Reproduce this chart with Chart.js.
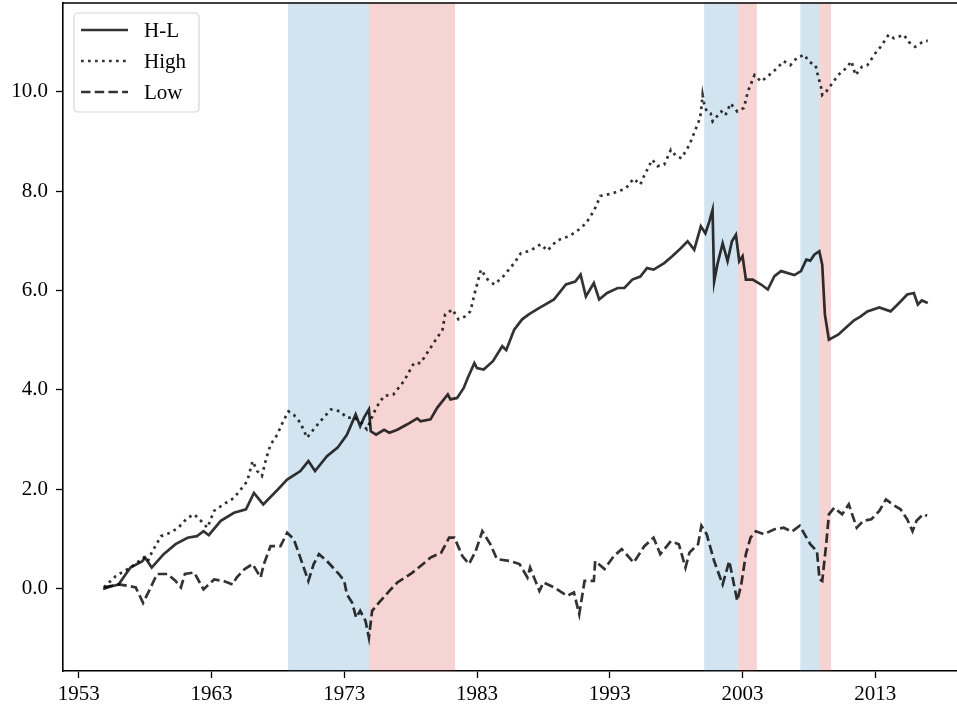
<!DOCTYPE html>
<html>
<head>
<meta charset="utf-8">
<script src="https://cdn.jsdelivr.net/npm/chart.js@4.4.1/dist/chart.umd.min.js"></script>
<style>
  html, body { margin: 0; padding: 0; background: #fff; overflow: hidden; }
  canvas { display: block; }
</style>
</head>
<body>
<canvas id="chart" width="957" height="708"></canvas>
<script>
// tick labels
const xTicks = [1953, 1963, 1973, 1983, 1993, 2003, 2013];
const yTicks = [0, 2, 4, 6, 8, 10];

// shaded periods (years)
const blueFrom = [1968.77, 2000.11, 2007.35];
const blueTo = [1974.86, 2002.63, 2008.78];
const redFrom = [1974.86, 2002.63, 2008.78];
const redTo = [1981.34, 2004.08, 2009.66];

// H-L (solid)
const hlX = [1954.84, 1955.4, 1956.0, 1956.9, 1957.8, 1958.0, 1958.5, 1959.4, 1960.3, 1961.2, 1961.9, 1962.4, 1962.8,
  1963.7, 1964.7, 1965.6, 1966.2, 1966.9, 1968.0, 1968.7, 1969.7, 1970.3, 1970.8, 1971.7, 1972.5, 1973.2, 1973.86,
  1974.2, 1974.5, 1974.86, 1975.0, 1975.4, 1976.0, 1976.4, 1977.0, 1977.75, 1978.5, 1978.75, 1979.5, 1980.0, 1980.8,
  1981.0, 1981.5, 1982.0, 1982.3, 1982.8, 1983.0, 1983.5, 1984.2, 1984.9, 1985.2, 1985.8, 1986.4, 1986.9, 1987.7,
  1988.8, 1989.7, 1990.4, 1990.8, 1991.2, 1991.8, 1992.2, 1992.8, 1993.6, 1994.1, 1994.7, 1995.3, 1995.8, 1996.3,
  1997.1, 1997.7, 1998.35, 1998.86, 1999.36, 1999.86, 2000.2, 2000.5, 2000.74, 2000.86, 2001.1, 2001.5, 2001.87,
  2002.2, 2002.5, 2002.75, 2003.0, 2003.25, 2003.76, 2004.4, 2004.9, 2005.4, 2005.9, 2006.9, 2007.4, 2007.8, 2008.1,
  2008.4, 2008.78, 2009.0, 2009.2, 2009.5, 2010.2, 2010.9, 2011.4, 2011.9, 2012.4, 2013.3, 2014.15, 2014.9, 2015.4,
  2015.9, 2016.2, 2016.5, 2016.95];
const hlY = [0.00, 0.05, 0.09, 0.43, 0.56, 0.63, 0.43, 0.70, 0.90, 1.03, 1.06, 1.16, 1.08,
  1.37, 1.53, 1.60, 1.93, 1.70, 2.00, 2.20, 2.37, 2.57, 2.37, 2.67, 2.84, 3.10, 3.51,
  3.27, 3.45, 3.61, 3.17, 3.10, 3.20, 3.14, 3.20, 3.31, 3.43, 3.37, 3.41, 3.64, 3.91,
  3.81, 3.84, 4.04, 4.24, 4.54, 4.44, 4.41, 4.58, 4.88, 4.80, 5.21, 5.42, 5.52, 5.65,
  5.82, 6.12, 6.18, 6.32, 5.88, 6.15, 5.82, 5.95, 6.05, 6.05, 6.22, 6.28, 6.45, 6.42,
  6.55, 6.69, 6.85, 6.99, 6.82, 7.29, 7.15, 7.39, 7.62, 6.18, 6.52, 6.95, 6.59,
  6.99, 7.12, 6.59, 6.69, 6.22, 6.22, 6.12, 6.02, 6.29, 6.39, 6.31, 6.39, 6.62, 6.60,
  6.72, 6.79, 6.52, 5.52, 5.01, 5.11, 5.28, 5.40, 5.48, 5.58, 5.66, 5.58, 5.78, 5.92,
  5.95, 5.72, 5.80, 5.75];

// High (dotted)
const highX = [1954.9, 1955.8, 1956.9, 1957.5, 1957.9, 1958.2, 1958.5, 1959.2, 1959.9, 1960.5, 1961.2, 1961.7, 1962.2,
  1962.7, 1963.2, 1963.9, 1964.7, 1965.3, 1965.7, 1966.1, 1966.45, 1966.8, 1967.1, 1967.45, 1967.95, 1968.4, 1968.8,
  1969.2, 1969.7, 1970.2, 1970.7, 1971.2, 1972.0, 1972.7, 1973.2, 1973.7, 1974.2, 1974.7, 1975.4, 1976.0, 1976.7,
  1977.5, 1978.25, 1978.75, 1979.4, 1980.0, 1980.4, 1980.6, 1981.15, 1981.6, 1982.1, 1982.5, 1982.8, 1983.3, 1983.8,
  1984.3, 1985.0, 1985.8, 1986.3, 1987.0, 1987.8, 1988.3, 1989.0, 1990.0, 1990.7, 1991.2, 1991.8, 1992.3, 1993.2,
  1994.2, 1994.8, 1995.3, 1995.5, 1996.2, 1996.6, 1997.1, 1997.6, 1998.0, 1998.4, 1999.0, 1999.7, 1999.86, 1999.99,
  2000.1, 2000.3, 2000.6, 2000.75, 2001.4, 2001.7, 2002.1, 2002.6, 2003.1, 2003.4, 2003.9, 2004.4, 2005.0, 2005.6,
  2006.1, 2006.6, 2007.1, 2007.65, 2008.0, 2008.5, 2008.6, 2008.9, 2009.0, 2009.3, 2009.66, 2010.2, 2010.8, 2011.2,
  2011.5, 2012.0, 2012.4, 2013.0, 2013.4, 2014.0, 2014.4, 2015.15, 2015.5, 2016.0, 2016.7, 2016.95];
const highY = [0.03, 0.26, 0.43, 0.55, 0.63, 0.55, 0.73, 1.06, 1.13, 1.23, 1.43, 1.50, 1.37,
  1.23, 1.57, 1.70, 1.83, 2.03, 2.17, 2.57, 2.37, 2.27, 2.60, 2.90, 3.10, 3.37, 3.57,
  3.50, 3.34, 3.04, 3.21, 3.37, 3.61, 3.57, 3.44, 3.45, 3.37, 3.21, 3.64, 3.88, 3.91,
  4.18, 4.54, 4.54, 4.81, 5.05, 5.21, 5.52, 5.62, 5.42, 5.48, 5.58, 5.92, 6.42, 6.22,
  6.12, 6.29, 6.55, 6.75, 6.80, 6.93, 6.80, 7.00, 7.10, 7.23, 7.35, 7.60, 7.90, 7.95,
  8.05, 8.25, 8.13, 8.26, 8.63, 8.50, 8.53, 8.83, 8.70, 8.66, 8.93, 9.40, 9.56, 9.93,
  9.76, 9.60, 9.56, 9.40, 9.60, 9.52, 9.76, 9.60, 9.67, 10.00, 10.33, 10.20, 10.33, 10.47,
  10.61, 10.53, 10.68, 10.74, 10.60, 10.53, 10.40, 10.10, 9.93, 10.00, 10.13, 10.33, 10.47, 10.61,
  10.33, 10.50, 10.53, 10.77, 10.90, 11.14, 11.07, 11.14, 11.00, 10.90, 11.02, 11.02];

// Low (dashed)
const lowX = [1954.9, 1956.0, 1956.8, 1957.3, 1957.85, 1958.3, 1958.9, 1959.7, 1960.3, 1960.7, 1961.0, 1961.7, 1962.4,
  1963.2, 1963.9, 1964.6, 1964.9, 1965.5, 1966.1, 1966.7, 1966.95, 1967.45, 1968.2, 1968.7, 1969.2, 1969.6, 1970.3,
  1970.7, 1971.1, 1971.7, 1972.6, 1973.0, 1973.2, 1973.6, 1973.9, 1974.2, 1974.6, 1974.86, 1975.1, 1975.6, 1976.4,
  1977.0, 1978.0, 1978.75, 1979.5, 1980.3, 1980.9, 1981.3, 1981.9, 1982.4, 1982.9, 1983.4, 1984.0, 1984.5, 1985.5,
  1986.2, 1986.8, 1987.0, 1987.7, 1988.0, 1988.8, 1989.8, 1990.3, 1990.7, 1991.1, 1991.8, 1991.9, 1992.6, 1993.3,
  1993.9, 1994.8, 1995.6, 1996.3, 1996.8, 1997.6, 1998.2, 1998.7, 1999.0, 1999.65, 1999.9, 2000.3, 2000.86, 2001.5,
  2002.0, 2002.6, 2002.9, 2003.25, 2003.6, 2004.0, 2004.6, 2005.4, 2006.1, 2006.7, 2007.3, 2008.1, 2008.6, 2008.8,
  2009.0, 2009.3, 2009.5, 2009.9, 2010.5, 2011.0, 2011.6, 2012.1, 2012.7, 2013.3, 2013.8, 2014.3, 2014.9, 2015.4,
  2015.8, 2016.1, 2016.6, 2016.9];
const lowY = [0.03, 0.09, 0.06, 0.03, -0.28, -0.04, 0.30, 0.30, 0.16, 0.03, 0.30, 0.33, -0.01,
  0.19, 0.16, 0.09, 0.23, 0.40, 0.50, 0.23, 0.50, 0.86, 0.86, 1.13, 1.00, 0.70, 0.16,
  0.50, 0.70, 0.56, 0.30, 0.16, -0.11, -0.28, -0.58, -0.44, -0.64, -0.98, -0.44, -0.28, -0.04,
  0.13, 0.30, 0.46, 0.63, 0.73, 1.03, 1.03, 0.66, 0.50, 0.76, 1.16, 0.90, 0.60, 0.56,
  0.50, 0.23, 0.43, -0.04, 0.13, 0.03, -0.14, -0.07, -0.51, 0.16, 0.16, 0.56, 0.40, 0.66,
  0.80, 0.53, 0.86, 1.03, 0.70, 0.96, 0.90, 0.43, 0.73, 0.90, 1.27, 1.10, 0.56, 0.09,
  0.56, -0.24, 0.09, 0.70, 1.03, 1.16, 1.10, 1.20, 1.23, 1.15, 1.27, 0.90, 0.76, 0.19,
  0.16, 0.90, 1.50, 1.63, 1.50, 1.70, 1.23, 1.37, 1.40, 1.57, 1.80, 1.70, 1.60, 1.40,
  1.16, 1.37, 1.50, 1.47];

const LINE = 'rgba(0,0,0,0.8)';
const FONT = { family: '"Liberation Serif", "DejaVu Serif", serif', size: 21 };

const toPoints = (xs, ys) => xs.map((x, i) => ({ x: x, y: ys[i] }));

const shading = {
    id: 'shading',
    beforeDatasetsDraw(chart) {
        const { ctx, chartArea, scales } = chart;
        const x = scales.x;
        const fill = (from, to, color) => {
            ctx.fillStyle = color;
            from.forEach((f, i) => {
                const a = x.getPixelForValue(f);
                const b = x.getPixelForValue(to[i]);
                ctx.fillRect(a, chartArea.top, b - a, chartArea.bottom - chartArea.top);
            });
        };
        ctx.save();
        fill(blueFrom, blueTo, 'rgba(31,119,180,0.2)');
        fill(redFrom, redTo, 'rgba(214,39,40,0.2)');
        ctx.restore();
    },
};

const frame = {
    id: 'frame',
    afterDraw(chart) {
        const { ctx, chartArea } = chart;
        ctx.save();
        ctx.strokeStyle = '#000';
        ctx.lineWidth = 1.6;
        ctx.beginPath();
        ctx.moveTo(chartArea.left, chartArea.top);
        ctx.lineTo(chartArea.right, chartArea.top);
        ctx.stroke();

        // legend box in the upper left
        const bx = 74, by = 13, bw = 125, bh = 99;
        ctx.fillStyle = 'rgba(255,255,255,0.8)';
        ctx.strokeStyle = '#d5d5d5';
        ctx.lineWidth = 1.2;
        ctx.beginPath();
        ctx.roundRect(bx, by, bw, bh, 4);
        ctx.fill();
        ctx.stroke();
        ctx.font = `${FONT.size}px ${FONT.family}`;
        ctx.textBaseline = 'middle';
        ctx.textAlign = 'left';
        chart.data.datasets.forEach((ds, i) => {
            const y = 30 + i * 31;
            ctx.strokeStyle = ds.borderColor;
            ctx.lineWidth = ds.borderWidth;
            ctx.setLineDash(ds.borderDash || []);
            ctx.beginPath();
            ctx.moveTo(81, y);
            ctx.lineTo(128, y);
            ctx.stroke();
            ctx.setLineDash([]);
            ctx.fillStyle = '#000';
            ctx.fillText(ds.label, 144, y + 1);
        });
        ctx.restore();
    },
};

new Chart(document.getElementById('chart'), {
    type: 'line',
    data: {
        datasets: [
            { label: 'H-L', data: toPoints(hlX, hlY), borderColor: LINE, borderWidth: 2.7 },
            { label: 'High', data: toPoints(highX, highY), borderColor: LINE, borderWidth: 2.7, borderDash: [2.7, 4.3] },
            { label: 'Low', data: toPoints(lowX, lowY), borderColor: LINE, borderWidth: 2.7, borderDash: [9.5, 4.2] },
        ],
    },
    options: {
        responsive: false,
        animation: false,
        layout: { padding: { top: 3, right: 0, left: 0, bottom: 0 } },
        elements: { point: { radius: 0 }, line: { tension: 0, fill: false } },
        plugins: { legend: { display: false }, tooltip: { enabled: false } },
        scales: {
            x: {
                type: 'linear',
                min: 1951.82,
                max: 2019.15,
                afterBuildTicks: (s) => { s.ticks = xTicks.map((v) => ({ value: v })); },
                afterFit: (s) => { s.height = 37; s.paddingLeft = 0; s.paddingRight = 0; },
                ticks: { color: '#000', font: FONT, padding: 4, maxRotation: 0, callback: (v) => String(v) },
                grid: { drawOnChartArea: false, drawTicks: true, tickLength: 7, tickWidth: 1.3, tickColor: '#000' },
                border: { display: true, color: '#000', width: 1.6 },
            },
            y: {
                type: 'linear',
                min: -1.65,
                max: 11.78,
                afterBuildTicks: (s) => { s.ticks = yTicks.map((v) => ({ value: v })); },
                afterFit: (s) => { s.width = 63; s.paddingTop = 0; s.paddingBottom = 0; },
                ticks: { color: '#000', font: FONT, padding: 8, callback: (v) => v.toFixed(1) },
                grid: { drawOnChartArea: false, drawTicks: true, tickLength: 7, tickWidth: 1.3, tickColor: '#000' },
                border: { display: true, color: '#000', width: 1.6 },
            },
        },
    },
    plugins: [shading, frame],
});
</script>
</body>
</html>
